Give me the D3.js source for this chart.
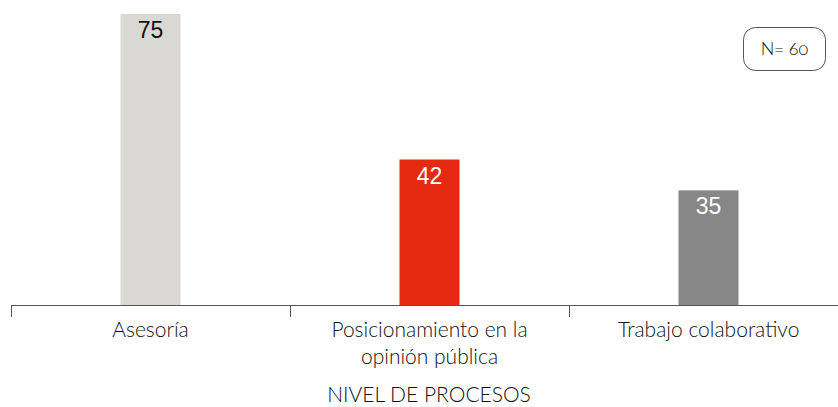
<!DOCTYPE html>
<html><head><meta charset="utf-8">
<script src="https://cdn.jsdelivr.net/npm/d3@7"></script>
<style>body{margin:0;background:#fff}svg{display:block}.on{font-variant-numeric:oldstyle-nums;font-feature-settings:"onum" 1}</style>
</head><body>
<svg id="c" width="838" height="407"></svg>
<script>
const categories = [["Asesoría"], ["Posicionamiento en la", "opinión pública"], ["Trabajo colaborativo"]];
const values = [75, 42, 35];
const colors = ["#d9d8d3", "#e62a12", "#878787"];
const labelColors = ["#111", "#fff", "#fff"];
const axisTitle = "NIVEL DE PROCESOS";
const nLabel = "N= 60";

const svg = d3.select("#c");
const keys = categories.map(c => c.join(" "));
const x = d3.scaleBand().domain(keys).range([11, 848]).paddingInner(0).paddingOuter(0);
const y = d3.scaleLinear().domain([9, 75]).range([305, 14]);
const bw = 60;

svg.selectAll("rect.bar").data(values).join("rect")
  .attr("x", (d, i) => x(keys[i]) + x.bandwidth() / 2 - bw / 2)
  .attr("width", bw)
  .attr("y", d => y(d))
  .attr("height", d => 305 - y(d))
  .attr("fill", (d, i) => colors[i]);

svg.selectAll("text.val").data(values).join("text")
  .attr("x", (d, i) => x(keys[i]) + x.bandwidth() / 2)
  .attr("y", d => y(d) + 24)
  .attr("text-anchor", "middle")
  .attr("font-family", "Liberation Sans, Arial, sans-serif")
  .attr("font-size", 23)
  .attr("fill", (d, i) => labelColors[i])
  .text(d => d);

// axis
const ax = svg.append("g");
ax.append("line").attr("x1", 11).attr("x2", 838).attr("y1", 305.5).attr("y2", 305.5)
  .attr("stroke", "#555").attr("stroke-width", 1);
const bounds = keys.map(k => x(k)).concat([x.range()[1]]);
ax.selectAll("line.t").data(bounds).join("line")
  .attr("x1", d => Math.round(d) + 0.5).attr("x2", d => Math.round(d) + 0.5)
  .attr("y1", 305).attr("y2", 317).attr("stroke", "#555");

const lab = svg.append("g").attr("font-family", "Lato, sans-serif").attr("font-weight", 300)
  .attr("font-size", 21).attr("fill", "#111");
categories.forEach((lines, i) => {
  const cx = x(keys[i]) + x.bandwidth() / 2;
  lines.forEach((l, j) => lab.append("text").attr("text-anchor", "middle")
    .attr("transform", `translate(${cx},${337 + j * 27}) scale(1,1.06)`).text(l));
});
lab.append("text").attr("text-anchor", "middle")
  .attr("x", 429).attr("y", 402).text(axisTitle);

svg.append("rect").attr("x", 743.5).attr("y", 27.5).attr("width", 82).attr("height", 43)
  .attr("rx", 12).attr("fill", "none").attr("stroke", "#555");
svg.append("text").attr("class", "on").attr("x", 784.5).attr("y", 55).attr("text-anchor", "middle")
  .attr("font-family", "Lato, sans-serif").attr("font-weight", 300).attr("font-size", 18).attr("fill", "#111")
  .text(nLabel);
</script>
</body></html>
